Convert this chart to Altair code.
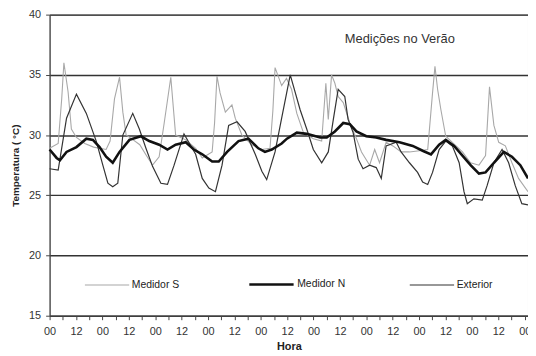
import altair as alt
import pandas as pd

# ---- data (hour, °C) ----
s_hours = [0, 3.9, 5.5, 6.5, 8.4, 9.9, 12.2, 16, 20, 25.7, 27.5, 29.5, 31.8, 33.3, 34.8, 38, 41, 44,
           46.8, 49.8, 52.1, 55.1, 57.3, 61.9, 66.4, 69.4, 73.9, 75.0, 76.1, 77.5, 79.9, 82.9, 84.4,
           87.4, 91.9, 96.5, 100.2, 101.5, 102.5, 105.5, 107.7, 110.0, 112.4, 115.4, 119.9, 123.7,
           125.6, 126.7, 128.2, 129.7, 131.2, 133.5, 136.5, 139.5, 141.8, 145.5, 147.8, 150.0, 153.0,
           156.1, 159.8, 163.6, 168.1, 171.9, 174.1, 175.2, 176.4, 177.9, 180.1, 183.1, 187.7, 191.4,
           195.2, 198.2, 200.0, 202.0, 204.2, 207.2, 210.2, 213.2, 217.5]
s_temp = [28.9, 29.3, 33.0, 36.0, 33.6, 30.5, 29.8, 29.3, 29.0, 28.8, 29.5, 33.0, 34.8, 31.9, 30.0, 29.6,
          29.2, 28.3, 27.5, 28.2, 31.0, 34.8, 30.0, 29.6, 28.9, 28.1, 28.6, 31.0, 34.9, 33.5, 31.9,
          32.5, 31.4, 30.0, 29.2, 28.8, 28.9, 32.0, 35.6, 34.1, 34.7, 33.8, 31.8, 30.2, 29.7, 29.5,
          34.3, 31.3, 35.0, 34.3, 33.2, 32.7, 31.0, 29.7, 28.6, 27.5, 28.8, 27.7, 29.4, 29.1, 28.6,
          28.6, 28.7, 28.8, 33.5, 35.7, 33.8, 32.1, 29.9, 29.4, 28.6, 27.7, 27.5, 28.3, 34.0, 30.8,
          29.4, 29.1, 27.7, 26.4, 25.3]

n_hours = [0, 3.2, 4.7, 7.7, 12.2, 16.7, 19.7, 22.7, 25.7, 28.7, 31.8, 36.3, 41.5, 45.3, 49.8, 53.6,
           57.3, 61.9, 65.6, 69.4, 73.9, 76.9, 80.7, 85.9, 90.4, 94.9, 97.9, 101.0, 105.5, 107.9,
           112.4, 116.9, 123.0, 126.0, 129.7, 133.5, 136.5, 139.5, 144.0, 148.5, 153.0, 159.1, 165.1,
           169.6, 173.4, 177.1, 180.1, 183.9, 187.7, 191.4, 195.2, 198.2, 202.0, 206.5, 210.2, 214.0,
           217.5]
n_temp = [28.8, 28.1, 27.9, 28.6, 29.0, 29.7, 29.6, 29.0, 28.2, 27.7, 28.6, 29.6, 29.9, 29.5, 29.2, 28.8,
          29.2, 29.4, 28.8, 28.4, 27.8, 27.8, 28.6, 29.5, 29.7, 28.9, 28.6, 28.8, 29.3, 29.7, 30.2,
          30.1, 29.8, 29.8, 30.3, 31.0, 30.9, 30.3, 29.9, 29.8, 29.6, 29.4, 29.1, 28.7, 28.4, 29.2,
          29.6, 29.1, 28.3, 27.5, 26.8, 26.9, 27.7, 28.6, 28.2, 27.5, 26.4]

e_hours = [0, 3.9, 7.7, 12.2, 16.7, 21.2, 24.2, 26.5, 28.7, 31.0, 33.3, 37.8, 40.8, 43.8, 46.8, 50.6,
           53.6, 56.6, 61.1, 66.4, 69.4, 72.4, 75.4, 78.4, 81.4, 85.2, 88.9, 93.5, 96.5, 98.7, 102.5,
           105.5, 109.4, 113.9, 116.9, 119.9, 123.7, 126.7, 129.0, 131.2, 134.2, 135.7, 138.0, 140.3,
           142.5, 145.5, 148.5, 150.8, 153.0, 157.6, 159.8, 163.6, 167.3, 169.6, 171.9, 174.1, 177.1,
           180.1, 183.1, 186.2, 188.4, 189.9, 192.9, 196.7, 198.9, 202.0, 205.7, 208.7, 211.7, 214.7,
           217.5]
e_temp = [27.2, 27.1, 31.4, 33.4, 31.8, 29.5, 27.5, 26.0, 25.7, 26.0, 30.0, 31.8, 30.5, 28.9, 27.4, 26.0,
          25.9, 27.5, 30.1, 28.4, 26.4, 25.6, 25.3, 27.5, 30.8, 31.1, 30.3, 28.4, 27.0, 26.3, 28.6,
          31.4, 35.0, 32.1, 30.5, 28.8, 27.7, 28.6, 31.3, 33.8, 33.2, 31.3, 30.2, 28.0, 27.2, 27.5,
          27.3, 26.4, 29.1, 29.4, 28.6, 27.7, 26.9, 26.1, 25.9, 26.9, 28.8, 29.5, 29.1, 27.7, 25.3,
          24.3, 24.7, 24.6, 25.8, 27.7, 28.8, 27.7, 25.8, 24.3, 24.2]

series_names = ["Medidor S", "Medidor N", "Exterior"]
series_colors = {"Medidor S": "#a8a8a8", "Medidor N": "#111111", "Exterior": "#333333"}
series_widths = {"Medidor S": 1.1, "Medidor N": 2.6, "Exterior": 1.2}
legend_x = {"Medidor S": 35, "Medidor N": 200, "Exterior": 363}
legend_y = {"Medidor S": 250, "Medidor N": 248.5, "Exterior": 250}
y_ticks = [15, 20, 25, 30, 35, 40]
x_ticks = list(range(0, 217, 6))

frames = []
for name, hrs, tmp in [("Medidor S", s_hours, s_temp), ("Medidor N", n_hours, n_temp),
                       ("Exterior", e_hours, e_temp)]:
    frames.append(pd.DataFrame({"hora": hrs, "temp": tmp, "serie": name}))
df = pd.concat(frames, ignore_index=True)

FONT = "Liberation Sans"

x_enc = alt.X("hora:Q",
              scale=alt.Scale(domain=[0, 217.5], nice=False, zero=False),
              axis=alt.Axis(title="Hora", values=x_ticks,
                            labelExpr="datum.value % 24 == 0 ? '00' : (datum.value % 12 == 0 ? '12' : '')",
                            labelOverlap=False, labelFlush=False, grid=False,
                            tickSize=4, labelPadding=6, labelFontSize=11, labelColor="#333",
                            titleFontSize=11, titleFontWeight="bold", titleColor="#222",
                            titlePadding=4, domainColor="#444", tickColor="#444"))
y_enc = alt.Y("temp:Q",
              scale=alt.Scale(domain=[15, 40], nice=False, zero=False),
              axis=alt.Axis(title="Temperatura ( °C)", values=y_ticks, grid=True,
                            gridColor="#333333", gridWidth=1.4, tickSize=4, labelPadding=5,
                            labelFontSize=11, labelColor="#333", titleFontSize=10,
                            titleFontWeight="bold", titleColor="#222", titlePadding=8,
                            domainColor="#444", tickColor="#444"))

layers = []
for name in ["Medidor S", "Exterior", "Medidor N"]:
    color_enc = alt.Color("serie:N",
                          scale=alt.Scale(domain=[name], range=[series_colors[name]]),
                          legend=alt.Legend(title=None, orient="none",
                                            legendX=legend_x[name], legendY=legend_y[name],
                                            symbolType="stroke", symbolSize=2000,
                                            symbolStrokeWidth=series_widths[name],
                                            labelFontSize=10.5, labelColor="#222",
                                            labelOffset=2, labelFont=FONT, padding=0))
    layers.append(
        alt.Chart(df).transform_filter(alt.datum.serie == name)
        .mark_line(interpolate="linear", strokeWidth=series_widths[name])
        .encode(x=x_enc, y=y_enc, color=color_enc)
    )

chart = alt.layer(*layers).resolve_scale(color="independent").properties(
    width=483, height=304,
    padding={"left": 42, "top": 5, "right": 0, "bottom": 40},
    autosize=alt.AutoSizeParams(type="none"),
    title=alt.TitleParams("Medições no Verão", anchor="start", orient="top", frame="group",
                          offset=0, dx=298, dy=38, fontSize=13, fontWeight="normal",
                          color="#333", font=FONT),
).configure(font=FONT).configure_view(stroke="#666", strokeWidth=1)

chart.save("out.html", embed_options={"renderer": "svg", "actions": False})
